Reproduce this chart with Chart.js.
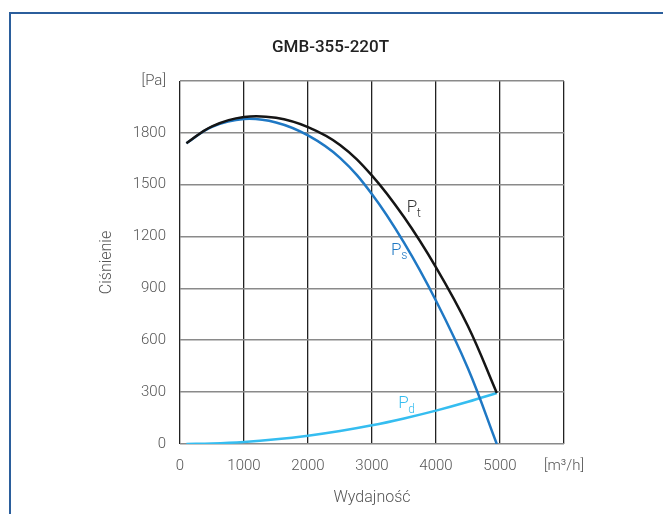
<!DOCTYPE html>
<html>
<head>
<meta charset="utf-8">
<script src="https://cdn.jsdelivr.net/npm/chart.js@4.4.0/dist/chart.umd.min.js"></script>
<style>
  html, body { margin: 0; padding: 0; overflow: hidden; background: #fff; }
  #frame { position: absolute; left: 9px; top: 12px; width: 800px; height: 700px;
           border-left: 2px solid #2b5e9c; border-top: 2px solid #2b5e9c; }
  #wrap { position: absolute; left: 0; top: 0; width: 663px; height: 514px; }
</style>
</head>
<body>
<div id="frame"></div>
<div id="wrap"><canvas id="wykres" width="663" height="514"></canvas></div>
<script>
var wydajnosc = [100, 500, 1000, 1500, 2000, 2500, 3000, 3500, 4000, 4500, 4950];
var cisnienieStat = [1740, 1835, 1880, 1860, 1785, 1655, 1445, 1165, 829, 437, 0];
var cisnienieDyn = [0, 3, 12, 27, 48, 75, 108, 148, 193, 244, 295];
var cisnienieCalk = [1740, 1838, 1892, 1887, 1833, 1730, 1553, 1313, 1022, 681, 295];
var tickiY = [0, 300, 600, 900, 1200, 1500, 1800, 2100];
var tickiX = [0, 1000, 2000, 3000, 4000, 5000, 6000];

function punkty(vals) {
    var out = [];
    for (var i = 0; i < wydajnosc.length; i++) out.push({x: wydajnosc[i], y: vals[i]});
    return out;
}

var etykiety = [
    {x: 3625, y: 1367, sub: 't', color: '#333333'},
    {x: 3380, y: 1120, sub: 's', color: '#1f78c4'},
    {x: 3490, y: 232, sub: 'd', color: '#35bdf0'}
];

var etykietyPlugin = {
    id: 'etykiety',
    afterDatasetsDraw: function(chart) {
        var ctx = chart.ctx;
        var sx = chart.scales.x, sy = chart.scales.y;
        ctx.save();
        etykiety.forEach(function(e) {
            var px = sx.getPixelForValue(e.x), py = sy.getPixelForValue(e.y);
            ctx.fillStyle = e.color;
            ctx.textBaseline = 'middle';
            ctx.textAlign = 'center';
            ctx.font = '300 17px Roboto';
            ctx.fillText('P', px, py);
            ctx.font = '300 12px Roboto';
            ctx.textAlign = 'left';
            ctx.fillText(e.sub, px + 5, py + 6);
        });
        ctx.restore();
    }
};

var linia = function(label, vals, kolor) {
    return {
        label: label,
        data: punkty(vals),
        showLine: true,
        borderColor: kolor,
        borderWidth: 2.5,
        pointRadius: 0,
        tension: 0.4
    };
};

var ctx = document.getElementById('wykres').getContext('2d');
var chart = new Chart(ctx, {
    type: 'scatter',
    data: {
        datasets: [
            linia('Pt', cisnienieCalk, '#151515'),
            linia('Ps', cisnienieStat, '#1f78c4'),
            linia('Pd', cisnienieDyn, '#35bdf0')
        ]
    },
    options: {
        responsive: false,
        animation: false,
        layout: { padding: { left: 97, right: 99, top: 0, bottom: 0 } },
        plugins: {
            legend: { display: false },
            tooltip: { enabled: false },
            title: {
                display: true,
                text: 'GMB-355-220T',
                color: '#222',
                font: { family: 'Roboto', size: 17, weight: '500', lineHeight: 1.2 },
                padding: { top: 37.8, bottom: 22.8 }
            }
        },
        scales: {
            x: {
                type: 'linear',
                min: 0,
                max: 6000,
                afterBuildTicks: function(s) { s.ticks = tickiX.map(function(v) { return {value: v}; }); },
                afterFit: function(s) { s.height = 70; },
                ticks: {
                    color: '#555',
                    padding: 13,
                    maxRotation: 0,
                    font: { family: 'Roboto', size: 15, weight: '300' },
                    callback: function(v) { return v === 6000 ? '[m³/h]' : v; }
                },
                grid: { color: '#222', lineWidth: 1.3, drawTicks: false },
                border: { display: false },
                title: {
                    display: true,
                    text: 'Wydajność',
                    color: '#555',
                    font: { family: 'Roboto', size: 16, weight: '300', lineHeight: 1.2 },
                    padding: { top: 0, bottom: 6 }
                }
            },
            y: {
                type: 'linear',
                min: 0,
                max: 2100,
                afterBuildTicks: function(s) { s.ticks = tickiY.map(function(v) { return {value: v}; }); },
                afterFit: function(s) { s.width = 83; },
                ticks: {
                    color: '#555',
                    padding: 14,
                    font: { family: 'Roboto', size: 15, weight: '300' },
                    callback: function(v) { return v === 2100 ? '[Pa]' : v; }
                },
                grid: { color: '#8a8a8a', lineWidth: 1.6, drawTicks: false },
                border: { display: false },
                title: {
                    display: true,
                    text: 'Ciśnienie',
                    color: '#555',
                    font: { family: 'Roboto', size: 16, weight: '300', lineHeight: 1.2 },
                    padding: { top: 0, bottom: 0 }
                }
            }
        }
    },
    plugins: [etykietyPlugin]
});
</script>
</body>
</html>
